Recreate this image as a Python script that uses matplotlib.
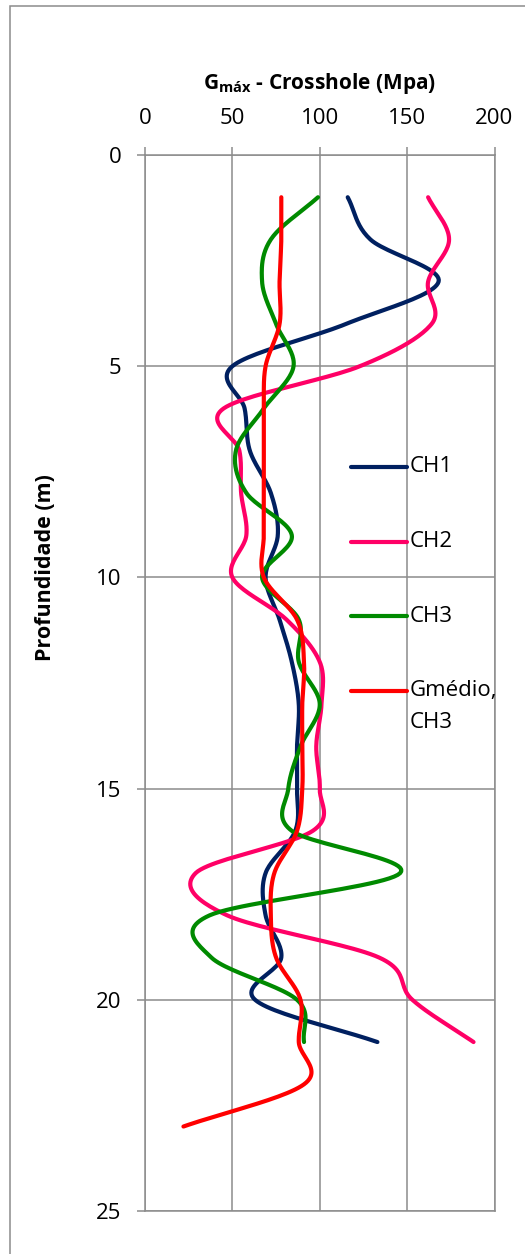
import numpy as np
import matplotlib
matplotlib.use("Agg")
import matplotlib.pyplot as plt
from matplotlib.patches import Rectangle

plt.rcParams['font.family'] = ['Open Sans', 'DejaVu Sans']

# Depths (m) and shear modulus readings (MPa)
depth_ch = [1, 2, 3, 4, 5, 6, 7, 8, 9, 10, 11, 12, 13, 14, 15, 16, 17, 18, 19, 20, 21]
ch1 = [116, 129, 168, 115, 50, 57, 60, 72, 76, 69, 77, 84, 88, 87, 87, 86, 69, 69, 78, 63, 133]
ch2 = [162, 174, 162, 164, 123, 45, 54, 55, 58, 50, 81, 100, 101, 98, 100, 96, 29, 47, 134, 153, 188]
ch3 = [99, 72, 67, 75, 85, 68, 52, 58, 84, 67, 88, 88, 100, 89, 82, 84, 146, 37, 38, 87, 91]
depth_med = [1, 2, 3, 4, 5, 6, 7, 8, 9, 10, 11, 12, 13, 14, 15, 16, 17, 18, 19, 20, 21, 22, 23]
gmedio = [78, 78, 77, 77, 69, 68, 68, 68, 68, 68, 87, 91, 90, 90, 90, 87, 74, 72, 75, 89, 88, 91, 22]

series = [
    ("CH1", ch1, depth_ch, "#002060"),
    ("CH2", ch2, depth_ch, "#FF0066"),
    ("CH3", ch3, depth_ch, "#008A00"),
    ("Gmédio,\nCH3", gmedio, depth_med, "#FF0000"),
]

x_ticks = [0, 50, 100, 150, 200]
y_ticks = [0, 5, 10, 15, 20, 25]


def smooth(xs, ys, n=24):
    """Catmull-Rom curve through the points (parametric, so it may fold back)."""
    p = np.column_stack([xs, ys]).astype(float)
    p = np.vstack([2 * p[0] - p[1], p, 2 * p[-1] - p[-2]])
    out = []
    t = np.linspace(0, 1, n, endpoint=False)[:, None]
    for i in range(1, len(p) - 2):
        p0, p1, p2, p3 = p[i - 1], p[i], p[i + 1], p[i + 2]
        seg = 0.5 * ((2 * p1) + (-p0 + p2) * t
                     + (2 * p0 - 5 * p1 + 4 * p2 - p3) * t ** 2
                     + (-p0 + 3 * p1 - 3 * p2 + p3) * t ** 3)
        out.append(seg)
    out.append(p[-2][None, :])
    out = np.vstack(out)
    return out[:, 0], out[:, 1]


W, H = 525, 1254
fig = plt.figure(figsize=(W / 100, H / 100), dpi=100)
ax = fig.add_axes([145 / W, 1 - 1211 / H, (494.5 - 145) / W, (1211 - 155) / H])

grid_c = "#8C8C8C"
for name, vals, dep, col in series:
    sx, sy = smooth(vals, dep)
    ax.plot(sx, sy, color=col, lw=3.0, solid_capstyle="round", solid_joinstyle="round", zorder=3)

ax.set_xlim(0, 200)
ax.set_ylim(25, 0)
ax.set_xticks(x_ticks)
ax.set_yticks(y_ticks)
ax.xaxis.tick_top()
ax.grid(True, color=grid_c, lw=1.1)
for s in ax.spines.values():
    s.set_color(grid_c)
    s.set_linewidth(1.1)
ax.tick_params(axis="both", direction="out", length=5.5, width=1.1, color=grid_c,
               labelsize=16)
ax.tick_params(axis="x", pad=13)
ax.tick_params(axis="y", pad=11.5)

fig.text((145 + 494.5) / 2 / W, 1 - 89 / H, "G$_{\\mathregular{máx}}$ - Crosshole (Mpa)",
         fontsize=15, fontweight="bold", ha="center", va="baseline")
fig.text(46 / W, 1 - 568 / H, "Profundidade (m)", rotation=90, fontsize=15.5,
         fontweight="bold", ha="center", va="center")

# Legend drawn beside the curves
leg_y = [467, 541.7, 616, 690.7]
for (name, vals, dep, col), py in zip(series, leg_y):
    yf = 1 - (py - 155) / (1211 - 155)
    ax.plot([(351 - 145) / 349.5, (407 - 145) / 349.5], [yf, yf], transform=ax.transAxes,
            color=col, lw=3.0, solid_capstyle="round", clip_on=False, zorder=4)
    lines = name.split("\n")
    for k, ln in enumerate(lines):
        yk = 1 - (py + 32 * k - 155) / (1211 - 155)
        ax.text((410 - 145) / 349.5, yk, ln, transform=ax.transAxes, fontsize=16,
                ha="left", va="center", zorder=4)

# Outer chart frame
fig.patches.append(Rectangle((10 / W, -0.1), 1.2, 1 - 6 / H + 0.1, transform=fig.transFigure,
                             fill=False, edgecolor=grid_c, lw=1.1))

fig.savefig("out.png", dpi=100)
